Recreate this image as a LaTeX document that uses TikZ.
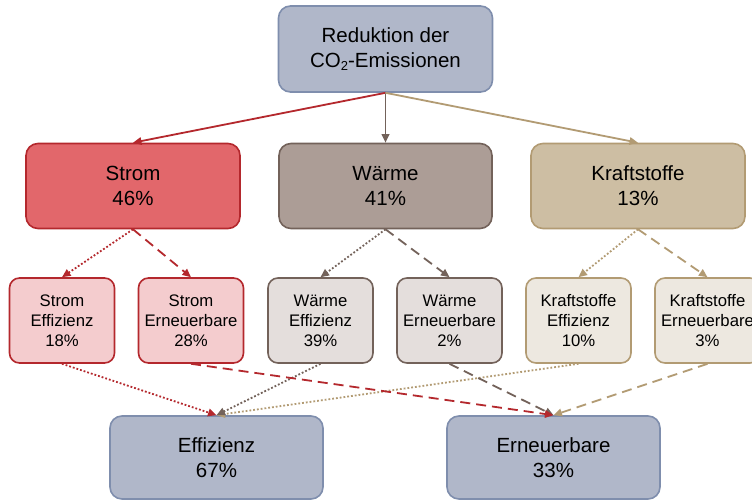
\documentclass[tikz,border=0pt]{standalone}
\usepackage{fontspec}
\setmainfont{Liberation Sans}
\usetikzlibrary{arrows.meta}
\definecolor{topfill}{HTML}{B0B7C9}
\definecolor{topdraw}{HTML}{7F8EAD}
\definecolor{sfill}{HTML}{E2676B}
\definecolor{sdraw}{HTML}{B4282D}
\definecolor{ssub}{HTML}{F4CCCE}
\definecolor{wfill}{HTML}{AC9D96}
\definecolor{wdraw}{HTML}{73625A}
\definecolor{wsub}{HTML}{E4DEDC}
\definecolor{kfill}{HTML}{CDBEA3}
\definecolor{kdraw}{HTML}{B29B73}
\definecolor{ksub}{HTML}{EDE8E0}
\begin{document}
\begin{tikzpicture}[x=1pt,y=-1pt,
  box/.style={rectangle, rounded corners=12pt, line width=1.6pt, align=center, inner sep=0pt, text=black},
  bigbox/.style={box, minimum width=214pt, minimum height=85pt, font=\fontsize{20.5}{25}\selectfont},
  smallbox/.style={box, rounded corners=10pt, minimum width=105pt, minimum height=85pt, font=\fontsize{16.7}{20}\selectfont},
  arr/.style={line width=1.8pt, -{Triangle[length=8.5pt,width=7.5pt]}},
  dotline/.style={arr, dash pattern=on 1.8pt off 2pt},
  dashline/.style={arr, dash pattern=on 10pt off 6pt}
]
\clip (0,0) rectangle (752,500);
\fill[white] (0,0) rectangle (752,500);

\node[bigbox, fill=topfill, draw=topdraw, minimum height=86pt] (top) at (385.5,49)
  {Reduktion der\\CO\raisebox{-0.35ex}{\fontsize{13}{13}\selectfont 2}-Emissionen};

\node[bigbox, fill=sfill, draw=sdraw] (strom) at (133,186) {Strom\\46\%};
\node[bigbox, fill=wfill, draw=wdraw, minimum width=213pt] (waerme) at (385.5,186) {Wärme\\41\%};
\node[bigbox, fill=kfill, draw=kdraw] (kraft) at (638,186) {Kraftstoffe\\13\%};

\node[smallbox, fill=ssub, draw=sdraw] (se) at (62,320.5) {Strom\\Effizienz\\18\%};
\node[smallbox, fill=ssub, draw=sdraw] (sr) at (191,320.5) {Strom\\Erneuerbare\\28\%};
\node[smallbox, fill=wsub, draw=wdraw] (we) at (320.5,320.5) {Wärme\\Effizienz\\39\%};
\node[smallbox, fill=wsub, draw=wdraw] (wr) at (449.5,320.5) {Wärme\\Erneuerbare\\2\%};
\node[smallbox, fill=ksub, draw=kdraw] (ke) at (578.5,320.5) {Kraftstoffe\\Effizienz\\10\%};
\node[smallbox, fill=ksub, draw=kdraw] (kr) at (707.5,320.5) {Kraftstoffe\\Erneuerbare\\3\%};

\node[bigbox, fill=topfill, draw=topdraw, minimum width=213pt, minimum height=83pt] (eff) at (216.5,457.5) {Effizienz\\67\%};
\node[bigbox, fill=topfill, draw=topdraw, minimum width=213pt, minimum height=83pt] (ern) at (553.5,457.5) {Erneuerbare\\33\%};

\draw[arr, sdraw] (top.south) -- (strom.north);
\draw[arr, wdraw] (top.south) -- (waerme.north);
\draw[arr, kdraw] (top.south) -- (kraft.north);

\draw[dotline, sdraw] (strom.south) -- (se.north);
\draw[dashline, sdraw] (strom.south) -- (sr.north);
\draw[dotline, wdraw] (waerme.south) -- (we.north);
\draw[dashline, wdraw] (waerme.south) -- (wr.north);
\draw[dotline, kdraw] (kraft.south) -- (ke.north);
\draw[dashline, kdraw] (kraft.south) -- (kr.north);

\draw[dotline, kdraw] (ke.south) -- (eff.north);
\draw[dotline, wdraw] (we.south) -- (eff.north);
\draw[dotline, sdraw] (se.south) -- (eff.north);
\draw[dashline, kdraw] (kr.south) -- (ern.north);
\draw[dashline, wdraw] (wr.south) -- (ern.north);
\draw[dashline, sdraw] (sr.south) -- (ern.north);
\end{tikzpicture}
\end{document}
